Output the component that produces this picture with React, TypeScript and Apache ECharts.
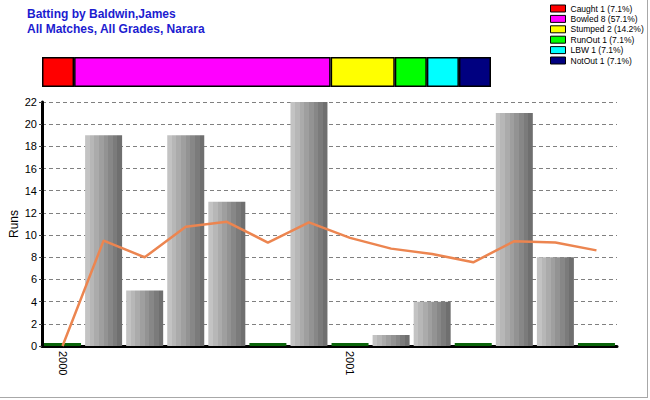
import React, { useEffect, useRef } from "react";
import * as echarts from "echarts";

const FONT = "Arial, 'Liberation Sans', sans-serif";

const titleLines = ["Batting by Baldwin,James", "All Matches, All Grades, Narara"];

const innings = ["1", "2", "3", "4", "5", "6", "7", "8", "9", "10", "11", "12", "13", "14"];
const seasonLabels = ["2000", "", "", "", "", "", "", "2001", "", "", "", "", "", ""];
const runs = [0, 19, 5, 19, 13, 0, 22, 0, 1, 4, 0, 21, 8, 0];
const average = [0, 9.5, 8, 10.75, 11.2, 9.33, 11.14, 9.75, 8.78, 8.3, 7.55, 9.45, 9.33, 8.62];

const dismissals = ["Caught", "Bowled", "Stumped", "RunOut", "LBW", "NotOut"];
const dismissalCounts = [1, 8, 2, 1, 1, 1];
const dismissalPct = ["7.1%", "57.1%", "14.2%", "7.1%", "7.1%", "7.1%"];
const dismissalColors = ["#ff0000", "#ff00ff", "#ffff00", "#00ff00", "#00ffff", "#000080"];

const stripeColors = ["#c3c3c3", "#b7b7b7", "#ababab", "#9f9f9f", "#939393", "#878787", "#7b7b7b", "#6f6f6f"];

export default function App() {
  const ref = useRef<HTMLDivElement>(null);
  useEffect(() => {
    if (!ref.current) return;
    const chart = echarts.init(ref.current, null, { renderer: "svg" });
    const stops: { offset: number; color: string }[] = [];
    stripeColors.forEach((c, i) => {
      stops.push({ offset: i / stripeColors.length, color: c });
      stops.push({ offset: (i + 1) / stripeColors.length, color: c });
    });
    const barGrad = new echarts.graphic.LinearGradient(0, 0, 1, 0, stops);
    const legendNames = dismissals.map((d, i) => `${d} ${dismissalCounts[i]} (${dismissalPct[i]})`);

    chart.setOption({
      animation: false,
      backgroundColor: "#ffffff",
      title: {
        text: titleLines.join("\n"),
        left: 27,
        top: 6,
        padding: 0,
        textStyle: { fontSize: 12, fontWeight: "bold", color: "#1c1cd0", fontFamily: FONT, lineHeight: 15 },
      },
      legend: {
        data: legendNames,
        orient: "vertical",
        left: 550,
        top: 4,
        padding: 0,
        itemWidth: 15,
        itemHeight: 7,
        itemGap: 1.4,
        icon: "rect",
        itemStyle: { borderColor: "#000", borderWidth: 1 },
        textStyle: { fontSize: 8.5, color: "#000", fontFamily: FONT },
        selectedMode: false,
      },
      grid: [
        { left: 42, right: 33, top: 102, bottom: 54, containLabel: false, outerBoundsMode: "none" },
        { left: 42, right: 159, top: 57, height: 30, containLabel: false, outerBoundsMode: "none" },
      ],
      xAxis: [
        {
          type: "category",
          gridIndex: 0,
          data: innings,
          boundaryGap: true,
          axisLine: { lineStyle: { color: "#000", width: 3 } },
          axisTick: { alignWithLabel: true, length: 5, lineStyle: { color: "#222", width: 1 } },
          axisLabel: {
            interval: 0,
            rotate: -90,
            margin: 5,
            fontSize: 11,
            color: "#000",
            fontFamily: FONT,
            formatter: (_v: string, i: number) => seasonLabels[i],
          },
          splitLine: { show: false },
        },
        { type: "value", gridIndex: 1, min: 0, max: 14, show: false },
      ],
      yAxis: [
        {
          type: "value",
          gridIndex: 0,
          min: 0,
          max: 22,
          interval: 2,
          name: "Runs",
          nameLocation: "middle",
          nameGap: 22,
          nameMoveOverlap: false,
          nameTextStyle: { fontSize: 12, color: "#000", fontFamily: FONT },
          axisLine: { show: true, lineStyle: { color: "#000", width: 3 } },
          axisTick: { show: true, length: 3, lineStyle: { color: "#444" } },
          axisLabel: { fontSize: 11, color: "#000", fontFamily: FONT, margin: 5 },
          splitLine: { show: true, lineStyle: { color: "#808080", type: [4, 3], width: 1 } },
        },
        { type: "category", gridIndex: 1, data: ["d"], show: false },
      ],
      series: [
        {
          type: "bar",
          xAxisIndex: 0,
          yAxisIndex: 0,
          barWidth: 37,
          barMinHeight: 3,
          data: runs.map((v) =>
            v === 0 ? { value: v, itemStyle: { color: "#0b650b" } } : { value: v, itemStyle: { color: barGrad } }
          ),
          z: 2,
        },
        {
          type: "line",
          xAxisIndex: 0,
          yAxisIndex: 0,
          data: average,
          showSymbol: false,
          symbol: "none",
          lineStyle: { color: "#ec8550", width: 2.5 },
          z: 3,
        },
        ...dismissals.map((_d, i) => ({
          type: "bar",
          name: legendNames[i],
          xAxisIndex: 1,
          yAxisIndex: 1,
          stack: "dismissals",
          barWidth: "100%",
          data: [dismissalCounts[i]],
          itemStyle: { color: dismissalColors[i], borderColor: "#000", borderWidth: 1.5 },
        })),
      ],
      graphic: [
        { type: "line", shape: { x1: 647.5, y1: 0, x2: 647.5, y2: 398 }, style: { stroke: "#a8a8a8", lineWidth: 1 } },
        { type: "line", shape: { x1: 0, y1: 397.5, x2: 648, y2: 397.5 }, style: { stroke: "#a8a8a8", lineWidth: 1 } },
      ],
    });
    return () => chart.dispose();
  }, []);
  return <div ref={ref} style={{ position: "fixed", left: 0, top: 0, width: 650, height: 400 }} />;
}
